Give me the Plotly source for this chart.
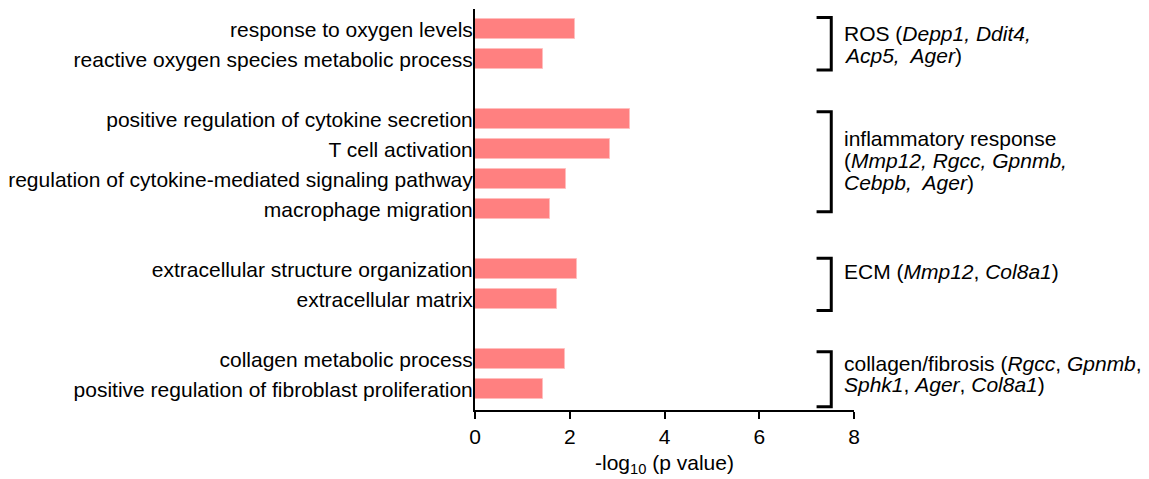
import plotly.graph_objects as go

# ---- data ----
terms = [
    "response to oxygen levels",
    "reactive oxygen species metabolic process",
    "positive regulation of cytokine secretion",
    "T cell activation",
    "regulation of cytokine-mediated signaling pathway",
    "macrophage migration",
    "extracellular structure organization",
    "extracellular matrix",
    "collagen metabolic process",
    "positive regulation of fibroblast proliferation",
]
neg_log10_p = [2.11, 1.43, 3.28, 2.86, 1.92, 1.59, 2.15, 1.74, 1.91, 1.43]
# row slot of each term (blank slots separate the groups)
slots = [0, 1, 3, 4, 5, 6, 8, 9, 11, 12]

group_lines = [
    ["ROS (<i>Depp1, Ddit4,</i>", "<i>Acp5,  Ager</i>)"],
    ["inflammatory response", "(<i>Mmp12, Rgcc, Gpnmb,</i>", "<i>Cebpb,  Ager</i>)"],
    ["ECM (<i>Mmp12</i>, <i>Col8a1</i>)"],
    ["collagen/fibrosis (<i>Rgcc</i>, <i>Gpnmb</i>,", "<i>Sphk1</i>, <i>Ager</i>, <i>Col8a1</i>)"],
]
# bracket extents (in row units) and text centre for each group
bracket_top = [-0.4, 2.75, 7.63, 10.75]
bracket_bottom = [1.35, 6.08, 9.37, 12.58]
text_center = [0.49, 4.36, 8.08, 11.49]
line_step = 0.73

x_ticks = [0, 2, 4, 6, 8]

FONT = "Liberation Sans, Arial, sans-serif"
FS = 21

fig = go.Figure()
fig.add_trace(go.Bar(
    x=neg_log10_p,
    y=slots,
    orientation="h",
    width=0.667,
    marker=dict(color="rgb(255,128,128)", line=dict(color="rgb(255,190,190)", width=1)),
    hoverinfo="x+y",
))

shapes = []
annotations = []
bx0, bx1 = 7.21, 7.52
for top, bot, lines, yc in zip(bracket_top, bracket_bottom, group_lines, text_center):
    shapes.append(dict(
        type="path", xref="x", yref="y",
        path=f"M {bx0},{top} L {bx1},{top} L {bx1},{bot} L {bx0},{bot}",
        line=dict(color="black", width=3),
    ))
    n = len(lines)
    for i, txt in enumerate(lines):
        annotations.append(dict(
            x=7.74, y=yc + (i - (n - 1) / 2) * line_step, xref="x", yref="y",
            text=txt, showarrow=False,
            xanchor="left", yanchor="middle", align="left",
            font=dict(family=FONT, size=FS, color="black"),
        ))

# page body has an 8px margin, compensate so the plot area lands at x 475-854, y 9-410
fig.update_layout(
    width=1149, height=479,
    margin=dict(l=467, r=303, t=1, b=77, autoexpand=False),
    paper_bgcolor="white", plot_bgcolor="white",
    showlegend=False,
    shapes=shapes,
    annotations=annotations,
    font=dict(family=FONT, size=FS, color="black"),
    bargap=0,
)
fig.update_xaxes(
    range=[0, 8], tickvals=x_ticks, ticktext=[str(v) for v in x_ticks],
    showgrid=False, zeroline=False, showline=True, linecolor="black", linewidth=2,
    ticks="outside", ticklen=7, tickwidth=2, tickcolor="black",
    tickfont=dict(family=FONT, size=FS, color="black"),
    title=dict(text="-log<sub>10</sub> (p value)", font=dict(family=FONT, size=FS, color="black"), standoff=8),
)
fig.update_yaxes(
    range=[12.69, -0.68], tickvals=slots, ticktext=terms,
    showgrid=False, zeroline=False, showline=True, linecolor="black", linewidth=2,
    ticks="", ticklabelstandoff=-4, tickfont=dict(family=FONT, size=FS, color="black"),
)

fig.write_html("out.html")
